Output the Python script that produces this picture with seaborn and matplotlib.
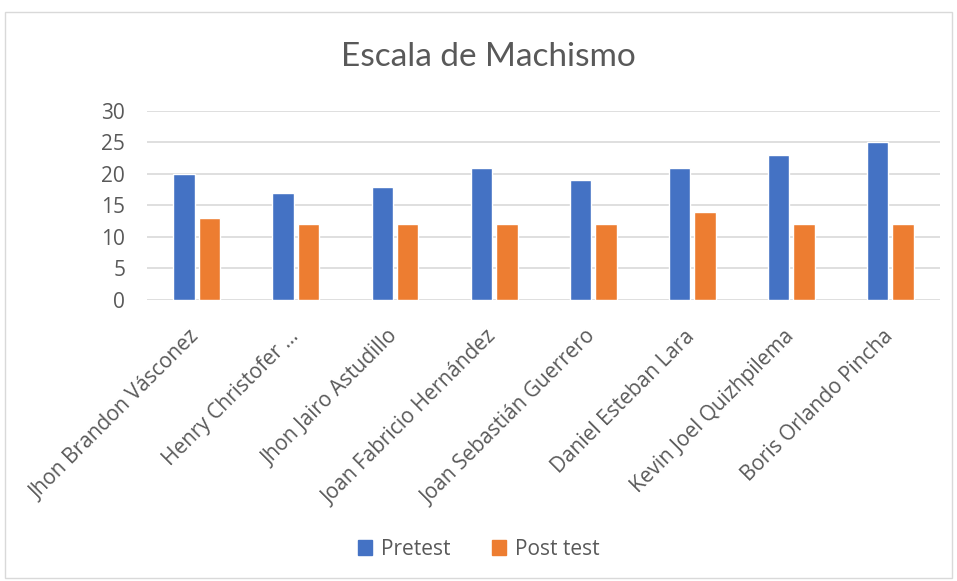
import matplotlib
matplotlib.use("Agg")
import matplotlib.pyplot as plt
import matplotlib.patches as mpatches
import matplotlib.transforms as mtransforms
import pandas as pd
import seaborn as sns

# data
students = ["Jhon Brandon Vásconez", "Henry Christofer ...", "Jhon Jairo Astudillo",
            "Joan Fabricio Hernández", "Joan Sebastián Guerrero", "Daniel Esteban Lara",
            "Kevin Joel Quizhpilema", "Boris Orlando Pincha"]
pretest = [20, 17, 18, 21, 19, 21, 23, 25]
posttest = [13, 12, 12, 12, 12, 14, 12, 12]
series = ["Pretest", "Post test"]
yticks = [0, 5, 10, 15, 20, 25, 30]

df = pd.DataFrame({
    "student": students * 2,
    "score": pretest + posttest,
    "serie": [series[0]] * len(students) + [series[1]] * len(students),
})

sns.set_theme(style="white")
plt.rcParams["font.family"] = ["Open Sans", "DejaVu Sans"]
grey = "#595959"
colors = ["#4472C4", "#ED7D31"]

fig = plt.figure(figsize=(9.57, 5.81), dpi=100)
ax = fig.add_axes([0.154, 0.484, 0.828, 0.325])

sns.barplot(data=df, x="student", y="score", hue="serie",
            palette=colors, width=0.51, gap=0.14,
            saturation=1, ax=ax, legend=False, zorder=3)

ax.set_ylim(0, 30)
ax.set_yticks(yticks)
ax.set_xlim(-0.5, len(students) - 0.5)
ax.yaxis.grid(True, color="#D9D9D9", linewidth=1.2, zorder=0)
ax.set_axisbelow(True)
for s in ax.spines.values():
    s.set_visible(False)
ax.set_xlabel("")
ax.set_ylabel("")
ax.tick_params(axis="both", length=0, labelsize=15, colors=grey)
ax.tick_params(axis="y", pad=16)
ax.tick_params(axis="x", pad=19)
ax.set_xticks(range(len(students)))
ax.set_xticklabels(students, rotation=45, ha="right", rotation_mode="anchor")

# nudge the rotated labels a little to the left
offset = mtransforms.ScaledTranslation(-0.08, 0, fig.dpi_scale_trans)
for lab in ax.xaxis.get_majorticklabels():
    lab.set_transform(lab.get_transform() + offset)

fig.text(0.51, 0.902, "Escala de Machismo", ha="center", va="center",
         fontsize=24, color=grey, family=["Lato", "DejaVu Sans"])

handles = [mpatches.Patch(color=c, label=l) for c, l in zip(colors, series)]
fig.legend(handles=handles, loc="center", bbox_to_anchor=(0.5, 0.055), ncol=2,
           frameon=False, fontsize=15, handlelength=0.7, handleheight=0.7,
           columnspacing=2.0, handletextpad=0.4, labelcolor=grey)

# chart frame like the office chart area
fig.patches.append(mpatches.Rectangle((0.005, 0.005), 0.99, 0.974, transform=fig.transFigure,
                                      fill=False, edgecolor="#D9D9D9", linewidth=1))

fig.savefig("out.png", dpi=100)
